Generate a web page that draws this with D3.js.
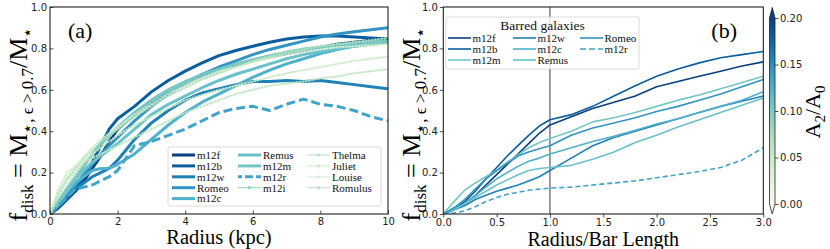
<!DOCTYPE html>
<html>
<head>
<meta charset="utf-8">
<script src="https://cdn.jsdelivr.net/npm/d3@7"></script>
<style>
body { margin: 0; background: #fff; }
svg { display: block; }
</style>
</head>
<body>
<svg width="830" height="249"></svg>
<script>
// ---- panel (a): all galaxies, radius in kpc ----
const radiusKpc = [0, 0.25, 0.5, 0.75, 1, 1.25, 1.5, 1.75, 2, 2.5, 3, 3.5, 4, 4.5, 5, 5.5, 6, 6.5, 7, 7.5, 8, 8.5, 9, 9.5, 10];
const galaxiesA = ["m12f", "m12b", "m12w", "Romeo", "m12c", "Remus", "m12m", "m12r", "m12i", "Thelma", "Juliet", "Louise", "Romulus"];
const barredA = [true, true, true, true, true, true, true, true, false, false, false, false, false];
const a2A0 = [0.2, 0.182, 0.158, 0.145, 0.125, 0.11, 0.105, 0.135, 0.09, 0.07, 0.05, 0.04, 0.06];

const fA_m12f = [0, 0.03, 0.07, 0.11, 0.16, 0.22, 0.28, 0.35, 0.41, 0.48, 0.54, 0.59, 0.63, 0.665, 0.695, 0.72, 0.74, 0.76, 0.775, 0.79, 0.805, 0.82, 0.83, 0.84, 0.845];
const fA_m12b = [0, 0.03, 0.07, 0.12, 0.18, 0.25, 0.33, 0.41, 0.46, 0.52, 0.59, 0.645, 0.69, 0.73, 0.765, 0.79, 0.81, 0.83, 0.845, 0.855, 0.86, 0.86, 0.855, 0.85, 0.845];
const fA_m12w = [0, 0.04, 0.08, 0.12, 0.15, 0.18, 0.2, 0.22, 0.26, 0.36, 0.44, 0.5, 0.55, 0.585, 0.605, 0.625, 0.64, 0.64, 0.645, 0.64, 0.645, 0.635, 0.625, 0.615, 0.605];
const fA_Romeo = [0, 0.04, 0.09, 0.14, 0.19, 0.24, 0.29, 0.33, 0.37, 0.45, 0.52, 0.58, 0.63, 0.675, 0.71, 0.74, 0.77, 0.795, 0.815, 0.835, 0.855, 0.87, 0.88, 0.89, 0.9];
const fA_m12c = [0, 0.06, 0.11, 0.15, 0.18, 0.21, 0.22, 0.22, 0.24, 0.29, 0.36, 0.43, 0.49, 0.54, 0.58, 0.62, 0.66, 0.695, 0.725, 0.75, 0.775, 0.795, 0.81, 0.82, 0.83];
const fA_Remus = [0, 0.06, 0.12, 0.17, 0.21, 0.25, 0.28, 0.31, 0.34, 0.41, 0.48, 0.53, 0.57, 0.61, 0.645, 0.675, 0.7, 0.725, 0.75, 0.77, 0.785, 0.8, 0.81, 0.82, 0.83];
const fA_m12m = [0, 0.05, 0.11, 0.17, 0.23, 0.29, 0.34, 0.38, 0.42, 0.49, 0.55, 0.6, 0.64, 0.675, 0.7, 0.725, 0.745, 0.765, 0.78, 0.795, 0.805, 0.815, 0.82, 0.825, 0.83];
const fA_m12r = [0, 0.04, 0.08, 0.12, 0.13, 0.14, 0.16, 0.18, 0.21, 0.33, 0.35, 0.38, 0.41, 0.45, 0.49, 0.51, 0.52, 0.5, 0.53, 0.555, 0.53, 0.52, 0.5, 0.47, 0.45];
const fA_m12i = [0, 0.07, 0.13, 0.19, 0.24, 0.29, 0.33, 0.37, 0.41, 0.48, 0.54, 0.59, 0.63, 0.66, 0.69, 0.72, 0.745, 0.765, 0.785, 0.8, 0.81, 0.82, 0.83, 0.835, 0.84];
const fA_Thelma = [0, 0.1, 0.17, 0.22, 0.27, 0.31, 0.35, 0.38, 0.41, 0.47, 0.52, 0.57, 0.61, 0.65, 0.68, 0.71, 0.735, 0.76, 0.78, 0.795, 0.81, 0.82, 0.83, 0.84, 0.85];
const fA_Juliet = [0, 0.12, 0.2, 0.23, 0.26, 0.29, 0.32, 0.35, 0.38, 0.43, 0.47, 0.51, 0.55, 0.575, 0.6, 0.62, 0.64, 0.66, 0.68, 0.695, 0.71, 0.725, 0.74, 0.75, 0.76];
const fA_Louise = [0, 0.1, 0.18, 0.23, 0.28, 0.32, 0.36, 0.39, 0.42, 0.48, 0.53, 0.58, 0.62, 0.66, 0.69, 0.71, 0.735, 0.755, 0.77, 0.785, 0.795, 0.805, 0.81, 0.815, 0.82];
const fA_Romulus = [0, 0.09, 0.16, 0.21, 0.25, 0.27, 0.29, 0.31, 0.33, 0.37, 0.41, 0.45, 0.49, 0.52, 0.55, 0.58, 0.6, 0.62, 0.63, 0.64, 0.655, 0.665, 0.68, 0.69, 0.7];
const valuesA = [fA_m12f, fA_m12b, fA_m12w, fA_Romeo, fA_m12c, fA_Remus, fA_m12m, fA_m12r, fA_m12i, fA_Thelma, fA_Juliet, fA_Louise, fA_Romulus];

// ---- panel (b): barred galaxies, radius / bar length ----
const radiusBar = [0, 0.1, 0.2, 0.3, 0.4, 0.5, 0.6, 0.7, 0.8, 0.9, 1.0, 1.2, 1.4, 1.6, 1.8, 2.0, 2.2, 2.4, 2.6, 2.8, 3.0];
const galaxiesB = ["m12f", "m12b", "m12m", "m12w", "m12c", "Remus", "Romeo", "m12r"];
const a2B = [0.2, 0.182, 0.105, 0.158, 0.125, 0.11, 0.145, 0.135];

const fB_m12f = [0, 0.02, 0.05, 0.09, 0.14, 0.19, 0.24, 0.29, 0.34, 0.39, 0.43, 0.47, 0.51, 0.54, 0.57, 0.615, 0.64, 0.665, 0.69, 0.715, 0.735];
const fB_m12b = [0, 0.02, 0.06, 0.11, 0.17, 0.225, 0.28, 0.33, 0.38, 0.425, 0.455, 0.48, 0.52, 0.57, 0.62, 0.665, 0.7, 0.73, 0.755, 0.77, 0.785];
const fB_m12m = [0, 0.06, 0.115, 0.15, 0.18, 0.21, 0.25, 0.285, 0.32, 0.345, 0.365, 0.4, 0.445, 0.465, 0.49, 0.52, 0.55, 0.575, 0.605, 0.635, 0.665];
const fB_m12w = [0, 0.02, 0.04, 0.07, 0.09, 0.11, 0.125, 0.14, 0.16, 0.18, 0.21, 0.27, 0.33, 0.37, 0.4, 0.43, 0.46, 0.49, 0.52, 0.545, 0.57];
const fB_m12c = [0, 0.02, 0.05, 0.09, 0.13, 0.17, 0.2, 0.23, 0.255, 0.27, 0.29, 0.32, 0.35, 0.375, 0.405, 0.435, 0.46, 0.49, 0.52, 0.55, 0.59];
const fB_Remus = [0, 0.02, 0.05, 0.08, 0.11, 0.14, 0.165, 0.19, 0.21, 0.22, 0.225, 0.235, 0.265, 0.3, 0.345, 0.38, 0.42, 0.455, 0.49, 0.525, 0.56];
const fB_Romeo = [0, 0.03, 0.07, 0.12, 0.17, 0.21, 0.245, 0.28, 0.3, 0.315, 0.33, 0.38, 0.415, 0.44, 0.465, 0.495, 0.52, 0.55, 0.58, 0.615, 0.65];
const fB_m12r = [0, 0.005, 0.015, 0.035, 0.06, 0.08, 0.095, 0.105, 0.115, 0.12, 0.125, 0.13, 0.14, 0.15, 0.16, 0.175, 0.19, 0.205, 0.225, 0.26, 0.32];
const valuesB = [fB_m12f, fB_m12b, fB_m12m, fB_m12w, fB_m12c, fB_Remus, fB_Romeo, fB_m12r];

const yTicks = [0, 0.2, 0.4, 0.6, 0.8, 1.0];
const xTicksA = [0, 2, 4, 6, 8, 10];
const xTicksB = [0, 0.5, 1.0, 1.5, 2.0, 2.5, 3.0];
const cbTicks = [0, 0.05, 0.1, 0.15, 0.2];
const barEdge = 1.0;

const svg = d3.select("svg");
const serif = "'Liberation Serif', 'DejaVu Serif', serif";
const sans = "'DejaVu Sans', sans-serif";
const cmap = v => d3.interpolateGnBu(Math.max(0, Math.min(1, v / 0.2)));

function ylabel(x, y) {
    const t = svg.append("text")
        .attr("transform", `translate(${x},${y}) rotate(-90)`)
        .attr("text-anchor", "middle")
        .attr("font-family", serif).attr("font-size", 26)
        .attr("xml:space", "preserve");
    t.append("tspan").text("f");
    t.append("tspan").attr("font-size", 17).attr("dy", 6).text("disk");
    t.append("tspan").attr("dy", -6).text(" = M");
    t.append("tspan").attr("font-size", 17).attr("dy", 6).text("\u22c6, \u03f5 > 0.7");
    t.append("tspan").attr("dy", -6).text("/M");
    t.append("tspan").attr("font-size", 17).attr("dy", 6).text("\u22c6");
}

function frame(g, w, h) {
    g.append("rect").attr("width", w).attr("height", h)
        .attr("fill", "none").attr("stroke", "#222").attr("stroke-width", 1.1);
}

function styleAxis(sel) {
    sel.select(".domain").remove();
    sel.selectAll(".tick line").attr("stroke", "#222").attr("stroke-width", 0.8);
    sel.selectAll(".tick text").attr("font-family", sans).attr("font-size", 10).attr("fill", "#222");
}

// ================= panel (a) =================
const A = {l: 50, r: 388, t: 7, b: 214};
const xA = d3.scaleLinear().domain([0, 10]).range([0, A.r - A.l]);
const yA = d3.scaleLinear().domain([0, 1]).range([A.b - A.t, 0]);
const gA = svg.append("g").attr("transform", `translate(${A.l},${A.t})`);

svg.append("clipPath").attr("id", "clipA").append("rect")
    .attr("width", A.r - A.l).attr("height", A.b - A.t);
const linesA = gA.append("g").attr("clip-path", "url(#clipA)");
const lineA = d3.line().x((d, i) => xA(radiusKpc[i])).y(d => yA(d));

galaxiesA.forEach((name, k) => {
    const col = cmap(a2A0[k]);
    if (barredA[k]) {
        linesA.append("path").attr("d", lineA(valuesA[k]))
            .attr("fill", "none").attr("stroke", col).attr("stroke-width", 3)
            .attr("stroke-dasharray", name === "m12r" ? "9,4" : null)
            .attr("stroke-linejoin", "round");
    } else {
        linesA.append("path").attr("d", lineA(valuesA[k]))
            .attr("fill", "none").attr("stroke", col).attr("stroke-width", 1)
            .attr("opacity", 0.75);
        linesA.append("path").attr("d", lineA(valuesA[k]))
            .attr("fill", "none").attr("stroke", col).attr("stroke-width", 2.6)
            .attr("stroke-linecap", "round").attr("stroke-dasharray", "0,3.2")
            .attr("opacity", 0.75);
    }
});

gA.append("g").attr("transform", `translate(0,${A.b - A.t})`)
    .call(d3.axisBottom(xA).tickValues(xTicksA).tickFormat(d3.format("d"))
        .tickSizeInner(-3.5).tickSizeOuter(0).tickPadding(4))
    .call(styleAxis);
gA.append("g")
    .call(d3.axisLeft(yA).tickValues(yTicks).tickFormat(d3.format(".1f"))
        .tickSizeInner(-3.5).tickSizeOuter(0).tickPadding(3))
    .call(styleAxis);
frame(gA, A.r - A.l, A.b - A.t);

gA.append("text").attr("x", 18).attr("y", 31)
    .attr("font-family", serif).attr("font-size", 22).text("(a)");

// legend (a): 3 columns filled column-wise, 5 + 4 + 4 entries
const legA = svg.append("g").attr("transform", "translate(168,147)");
legA.append("rect").attr("width", 213).attr("height", 59).attr("rx", 2)
    .attr("fill", "#fff").attr("fill-opacity", 0.8).attr("stroke", "#d0d0d0").attr("stroke-width", 0.8);
const colX = [4, 70, 139];
const colStart = [0, 5, 9];
galaxiesA.forEach((name, k) => {
    const c = k < 5 ? 0 : (k < 9 ? 1 : 2);
    const r = k - colStart[c];
    const x0 = colX[c], yy = 8 + r * 10.9;
    const col = cmap(a2A0[k]);
    const row = legA.append("g");
    if (barredA[k]) {
        row.append("line").attr("x1", x0).attr("x2", x0 + 23).attr("y1", yy).attr("y2", yy)
            .attr("stroke", col).attr("stroke-width", 3)
            .attr("stroke-dasharray", name === "m12r" ? "8,3" : null)
            .attr("stroke-dashoffset", name === "m12r" ? 4 : null);
    } else {
        row.append("line").attr("x1", x0).attr("x2", x0 + 23).attr("y1", yy).attr("y2", yy)
            .attr("stroke", col).attr("stroke-width", 1);
        row.append("circle").attr("cx", x0 + 11.5).attr("cy", yy).attr("r", 1.6).attr("fill", col);
    }
    row.append("text").attr("x", x0 + 25).attr("y", yy).attr("dy", "0.35em")
        .attr("font-family", serif).attr("font-size", 11).attr("fill", "#111").text(name);
});

svg.append("text").attr("x", (A.l + A.r) / 2).attr("y", 244)
    .attr("text-anchor", "middle").attr("font-family", serif).attr("font-size", 20.5)
    .text("Radius (kpc)");
ylabel(27, 124);

// ================= panel (b) =================
const B = {l: 443.3, r: 763.3, t: 7, b: 214};
const xB = d3.scaleLinear().domain([0, 3]).range([0, B.r - B.l]);
const yB = d3.scaleLinear().domain([0, 1]).range([B.b - B.t, 0]);
const gB = svg.append("g").attr("transform", `translate(${B.l},${B.t})`);

svg.append("clipPath").attr("id", "clipB").append("rect")
    .attr("width", B.r - B.l).attr("height", B.b - B.t);
const linesB = gB.append("g").attr("clip-path", "url(#clipB)");
const lineB = d3.line().x((d, i) => xB(radiusBar[i])).y(d => yB(d));

linesB.append("line").attr("x1", xB(barEdge)).attr("x2", xB(barEdge))
    .attr("y1", 0).attr("y2", B.b - B.t).attr("stroke", "#222").attr("stroke-width", 0.9);

galaxiesB.forEach((name, k) => {
    linesB.append("path").attr("d", lineB(valuesB[k]))
        .attr("fill", "none").attr("stroke", cmap(a2B[k])).attr("stroke-width", 1.6)
        .attr("stroke-dasharray", name === "m12r" ? "5,3" : null)
        .attr("stroke-linejoin", "round");
});

gB.append("g").attr("transform", `translate(0,${B.b - B.t})`)
    .call(d3.axisBottom(xB).tickValues(xTicksB).tickFormat(d3.format(".1f"))
        .tickSizeInner(3.5).tickSizeOuter(0).tickPadding(1))
    .call(styleAxis);
gB.append("g")
    .call(d3.axisLeft(yB).tickValues(yTicks).tickFormat(d3.format(".1f"))
        .tickSizeInner(3.5).tickSizeOuter(0).tickPadding(2))
    .call(styleAxis);
frame(gB, B.r - B.l, B.b - B.t);

gB.append("text").attr("x", 268).attr("y", 31)
    .attr("font-family", serif).attr("font-size", 22).text("(b)");

// legend (b)
const legB = svg.append("g").attr("transform", "translate(446,17)");
legB.append("rect").attr("width", 193).attr("height", 52).attr("rx", 2)
    .attr("fill", "#fff").attr("fill-opacity", 0.8).attr("stroke", "#d0d0d0").attr("stroke-width", 0.8);
legB.append("text").attr("x", 96.5).attr("y", 13).attr("text-anchor", "middle")
    .attr("font-family", serif).attr("font-size", 13.5).attr("fill", "#111").text("Barred galaxies");
const colXB = [2, 67, 134];
galaxiesB.forEach((name, k) => {
    const c = Math.floor(k / 3), r = k % 3;
    const x0 = colXB[c], yy = 21 + r * 11;
    legB.append("line").attr("x1", x0).attr("x2", x0 + 23).attr("y1", yy).attr("y2", yy)
        .attr("stroke", cmap(a2B[k])).attr("stroke-width", 1.6)
        .attr("stroke-dasharray", name === "m12r" ? "6,3" : null);
    legB.append("text").attr("x", x0 + 24.5).attr("y", yy).attr("dy", "0.35em")
        .attr("font-family", serif).attr("font-size", 11).attr("fill", "#111").text(name);
});

svg.append("text").attr("x", (B.l + B.r) / 2).attr("y", 246)
    .attr("text-anchor", "middle").attr("font-family", serif).attr("font-size", 20)
    .text("Radius/Bar Length");
ylabel(420, 124);

// ================= colorbar =================
const CB = {x: 769.5, w: 5.5, top: 18, bot: 204, triTop: 7.5, triBot: 214};
const yC = d3.scaleLinear().domain([0, 0.2]).range([CB.bot, CB.top]);
const grad = svg.append("defs").append("linearGradient").attr("id", "cbGrad")
    .attr("x1", 0).attr("y1", 1).attr("x2", 0).attr("y2", 0);
d3.range(0, 1.0001, 0.05).forEach(t => {
    grad.append("stop").attr("offset", t).attr("stop-color", cmap(t * 0.2));
});
svg.append("rect").attr("x", CB.x).attr("y", CB.top).attr("width", CB.w).attr("height", CB.bot - CB.top)
    .attr("fill", "url(#cbGrad)");
svg.append("path").attr("d", `M${CB.x},${CB.top}L${CB.x + CB.w / 2},${CB.triTop}L${CB.x + CB.w},${CB.top}Z`)
    .attr("fill", cmap(0.2));
svg.append("path").attr("d", `M${CB.x},${CB.bot}L${CB.x + CB.w / 2},${CB.triBot}L${CB.x + CB.w},${CB.bot}Z`)
    .attr("fill", cmap(0));
svg.append("path")
    .attr("d", `M${CB.x},${CB.top}L${CB.x + CB.w / 2},${CB.triTop}L${CB.x + CB.w},${CB.top}` +
        `L${CB.x + CB.w},${CB.bot}L${CB.x + CB.w / 2},${CB.triBot}L${CB.x},${CB.bot}Z`)
    .attr("fill", "none").attr("stroke", "#222").attr("stroke-width", 0.8);
svg.append("g").attr("transform", `translate(${CB.x + CB.w},0)`)
    .call(d3.axisRight(yC).tickValues(cbTicks).tickFormat(d3.format(".2f"))
        .tickSizeInner(3.5).tickSizeOuter(0).tickPadding(1.5))
    .call(styleAxis);

const cbl = svg.append("text").attr("transform", "translate(820,112) rotate(-90)")
    .attr("text-anchor", "middle").attr("font-family", serif).attr("font-size", 22);
cbl.append("tspan").text("A");
cbl.append("tspan").attr("font-size", 15).attr("dy", 5).text("2");
cbl.append("tspan").attr("dy", -5).text("/A");
cbl.append("tspan").attr("font-size", 15).attr("dy", 5).text("0");
</script>
</body>
</html>
